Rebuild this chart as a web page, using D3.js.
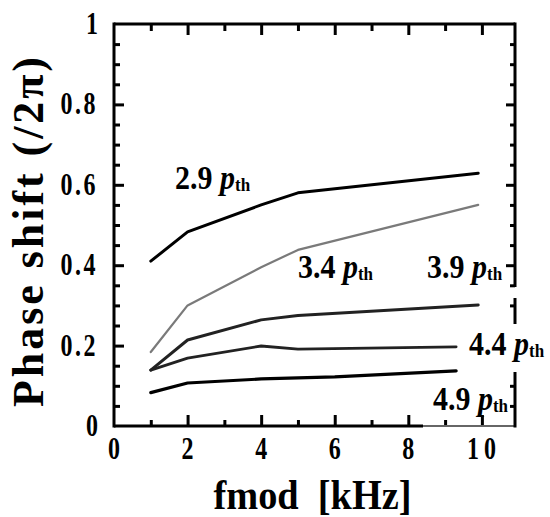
<!DOCTYPE html>
<html>
<head>
<meta charset="utf-8">
<script src="https://cdn.jsdelivr.net/npm/d3@7"></script>
<style>
  html, body { margin: 0; padding: 0; background: #fff; }
  svg { display: block; }
  text { font-family: "Liberation Serif", "Times New Roman", serif; font-weight: bold; fill: #000; }
</style>
</head>
<body>
<svg id="chart" width="550" height="517"></svg>
<script>
// ---- data ----
const seriesNames = ["2.9", "3.4", "3.9", "4.4", "4.9"];
const fmod_29 = [1, 2, 4, 5, 9.9];
const phase_29 = [0.41, 0.483, 0.55, 0.58, 0.629];
const fmod_34 = [1, 2, 4, 5, 9.9];
const phase_34 = [0.184, 0.30, 0.395, 0.438, 0.55];
const fmod_39 = [1, 2, 4, 5, 9.9];
const phase_39 = [0.139, 0.214, 0.264, 0.275, 0.301];
const fmod_44 = [1, 2, 4, 5, 9.3];
const phase_44 = [0.139, 0.169, 0.199, 0.191, 0.197];
const fmod_49 = [1, 2, 4, 6, 9.3];
const phase_49 = [0.083, 0.107, 0.117, 0.122, 0.137];
// label anchor positions (data units)
const labelX = [1.66, 5.0, 8.51, 9.65, 8.67];
const labelY = [0.59, 0.368, 0.368, 0.177, 0.04];
const xTickLabels = ["0", "2", "4", "6", "8", "10"];
const yTickLabels = ["0", "0.2", "0.4", "0.6", "0.8", "1"];

const fmods = [fmod_29, fmod_34, fmod_39, fmod_44, fmod_49];
const phases = [phase_29, phase_34, phase_39, phase_44, phase_49];
const lineColors = ["#000", "#7a7a7a", "#222", "#222", "#000"];
const lineWidths = [3, 2.2, 3, 2.8, 3.2];

// ---- layout ----
const svg = d3.select("#chart");
const L = 114, R = 515, T = 24, B = 426;
const x = d3.scaleLinear().domain([0, 10.9]).range([L, R]);
const y = d3.scaleLinear().domain([0, 1]).range([B, T]);

const xMajor = [2, 4, 6, 8, 10];
const xMinor = [1, 3, 5, 7, 9];
const yMajor = [0.2, 0.4, 0.6, 0.8];
const yMinor = d3.range(1, 20).map(i => +(i * 0.05).toFixed(2)).filter(v => !yMajor.includes(v));
// right side ticks hidden where the frame is broken (label 4.4)
const inGap = v => y(v) > 324 && y(v) < 372;

function addAxis(axis, tx, ty) {
  const a = svg.append("g").attr("transform", `translate(${tx},${ty})`).call(axis);
  a.select(".domain").remove();
  a.selectAll(".tick text").remove();
  a.selectAll(".tick line").attr("stroke", "#000").attr("stroke-width", 3);
  return a;
}
addAxis(d3.axisBottom(x).tickValues(xMajor).tickSize(-11).tickFormat(""), 0, B);
addAxis(d3.axisBottom(x).tickValues(xMinor).tickSize(-6).tickFormat(""), 0, B);
addAxis(d3.axisTop(x).tickValues(xMajor).tickSize(-11).tickFormat(""), 0, T);
addAxis(d3.axisTop(x).tickValues(xMinor).tickSize(-7).tickFormat(""), 0, T);
addAxis(d3.axisLeft(y).tickValues(yMajor).tickSize(-10).tickFormat(""), L, 0);
addAxis(d3.axisLeft(y).tickValues(yMinor).tickSize(-6).tickFormat(""), L, 0);
addAxis(d3.axisRight(y).tickValues(yMajor.filter(v => !inGap(v))).tickSize(-9).tickFormat(""), R, 0);
addAxis(d3.axisRight(y).tickValues(yMinor.filter(v => !inGap(v))).tickSize(-5).tickFormat(""), R, 0);

// frame
const frame = svg.append("g").attr("stroke", "#000").attr("stroke-width", 3).attr("fill", "none");
frame.append("line").attr("x1", L).attr("x2", L).attr("y1", T - 1.5).attr("y2", B + 1.5);
frame.append("line").attr("x1", L).attr("x2", R).attr("y1", T).attr("y2", T);
frame.append("line").attr("x1", L).attr("x2", x(8.4)).attr("y1", B).attr("y2", B);
frame.append("line").attr("x1", x(8.4)).attr("x2", R).attr("y1", B).attr("y2", B)
  .attr("stroke", "#666").attr("stroke-width", 2);
[[T - 1.5, 287], [298, 324], [372, B + 1.5]].forEach(s => {
  frame.append("line").attr("x1", R).attr("x2", R).attr("y1", s[0]).attr("y2", s[1]);
});

// tick labels
xTickLabels.forEach(t => {
  const v = +t;
  svg.append("text")
    .attr("transform", `translate(${x(v) + (t.length > 1 ? 2 : 0)},${459}) scale(1,1.3)`)
    .attr("text-anchor", "middle")
    .attr("font-size", 24)
    .attr("letter-spacing", t.length > 1 ? 5 : 0)
    .text(t);
});
yTickLabels.forEach(t => {
  const v = +t;
  svg.append("text")
    .attr("transform", `translate(${98},${y(v) + 10}) scale(1,1.3)`)
    .attr("text-anchor", "end")
    .attr("font-size", 24)
    .attr("letter-spacing", t.length > 1 ? 2.5 : 0)
    .text(t);
});

// lines
const line = d3.line().x(d => x(d[0])).y(d => y(d[1]));
fmods.forEach((fs, i) => {
  const pts = fs.map((f, j) => [f, phases[i][j]]);
  svg.append("path").datum(pts)
    .attr("d", line)
    .attr("fill", "none")
    .attr("stroke", lineColors[i])
    .attr("stroke-width", lineWidths[i])
    .attr("stroke-linejoin", "round")
    .attr("stroke-linecap", "round");
});

// series labels
seriesNames.forEach((n, i) => {
  const t = svg.append("text")
    .attr("transform", `translate(${x(labelX[i])},${y(labelY[i])}) scale(1,1.12)`)
    .attr("font-size", 30);
  t.append("tspan").text(n + "\u00A0");
  t.append("tspan").attr("font-style", "italic").text("p");
  t.append("tspan").attr("font-size", 17).attr("dy", 2).text("th");
});

// axis titles
svg.append("text")
  .attr("x", (L + R) / 2 - 2).attr("y", 509)
  .attr("text-anchor", "middle")
  .attr("font-size", 42)
  .attr("textLength", 198).attr("lengthAdjust", "spacingAndGlyphs")
  .text("fmod\u00A0\u00A0[kHz]");
svg.append("text")
  .attr("transform", `translate(43,232) rotate(-90)`)
  .attr("text-anchor", "middle")
  .attr("font-size", 44)
  .attr("textLength", 350).attr("lengthAdjust", "spacing")
  .text("Phase shift (/2π)");
</script>
</body>
</html>
